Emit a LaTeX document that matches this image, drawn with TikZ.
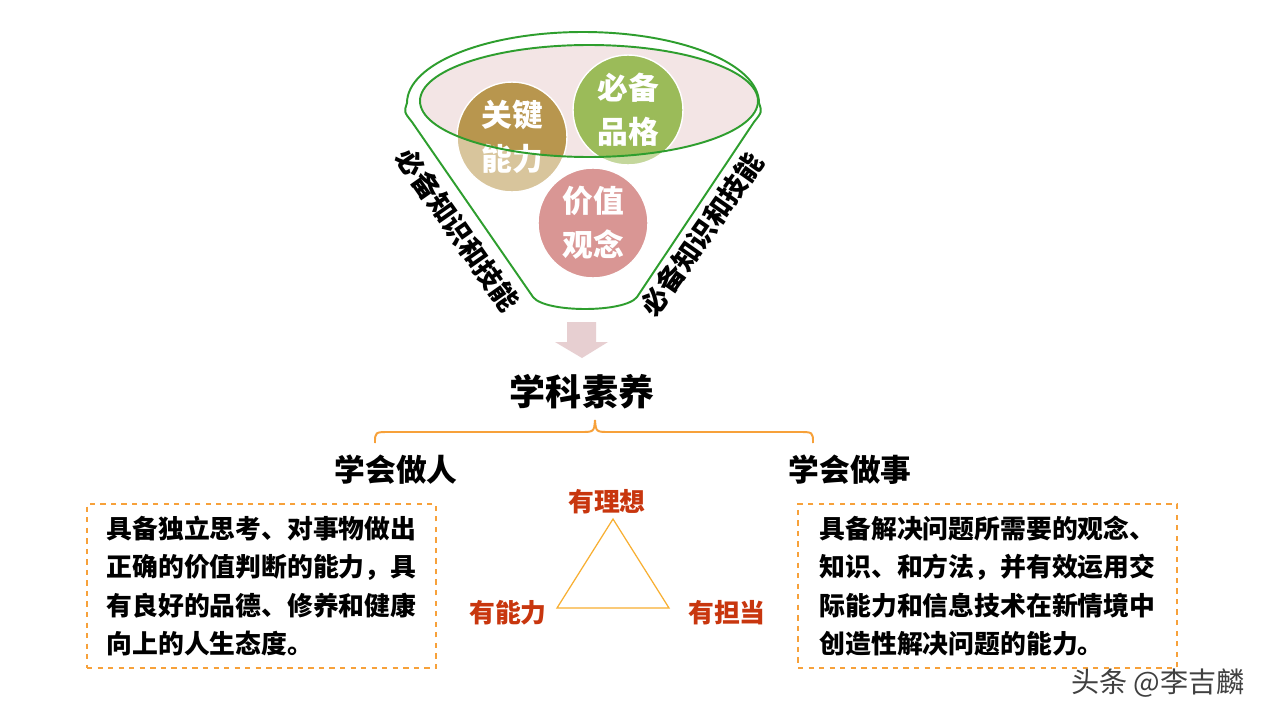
\documentclass[tikz,border=0pt]{standalone}
\usepackage{fontspec}
\setmainfont{Noto Sans CJK SC}
\usetikzlibrary{positioning,shapes.geometric}
\definecolor{lvse}{HTML}{2E9E2E}
\definecolor{fenhong}{HTML}{F3E5E5}
\definecolor{zongA}{HTML}{B8964E}
\definecolor{zongB}{HTML}{D8C59C}
\definecolor{lvA}{HTML}{9BBB59}
\definecolor{lvB}{HTML}{C4D79C}
\definecolor{hongA}{HTML}{D99694}
\definecolor{cheng}{HTML}{F7A13A}
\definecolor{hongzi}{HTML}{C8360E}
\definecolor{jiantou}{HTML}{E7CFD1}
\tikzset{
  quan/.style={circle,draw=white,line width=0.8pt,minimum size=2.2cm,inner sep=0pt,text=white,font=\fontsize{17.5}{25}\selectfont\bfseries,align=center},
  loudou/.style={draw=lvse,line width=1.1pt},
  cebian/.style={font=\fontsize{15.5}{18}\selectfont\bfseries,inner sep=0pt},
  kuang/.style={draw=cheng,dashed,line width=0.7pt,minimum width=6.98cm,minimum height=3.28cm,align=left,font=\fontsize{14.7}{21.8}\selectfont\bfseries},
  biaoti/.style={font=\fontsize{17.5}{20}\selectfont\bfseries},
  hongbiao/.style={text=hongzi,font=\fontsize{14.7}{17}\selectfont\bfseries},
  kuohao/.style={draw=cheng,line width=1.1pt},
  sanjiao/.style={draw=cheng!85!yellow,line width=0.7pt},
}

\begin{document}
\begin{tikzpicture}[x=0.02cm,y=-0.02cm]
\useasboundingbox[fill=white] (0,0) rectangle (1279,720);
% lou dou
\fill[fenhong] (589,101) ellipse[x radius=169,y radius=56];
\coordinate (cGJ) at (512,137);
\coordinate (cBP) at (628,110);
\coordinate (cJZ) at (593,223);
\fill[zongB] (cGJ) circle[radius=55];
\fill[lvB] (cBP) circle[radius=55];
\fill[hongA] (cJZ) circle[radius=55];
\begin{scope}
  \clip (589,101) ellipse[x radius=169,y radius=56];
  \fill[zongA] (cGJ) circle[radius=55];
  \fill[lvA] (cBP) circle[radius=55];
\end{scope}
\node[quan] (gj) at (cGJ) {关键\\能力};
\node[quan] (bp) at (cBP) {必备\\品格};
\node[quan] (jz) at (cJZ) {价值\\观念};
\draw[loudou] (589,101) ellipse[x radius=169,y radius=56];
\draw[loudou] (412,122) .. controls (404,112) .. (407,103)
  arc[start angle=180,end angle=360,x radius=176,y radius=71]
  .. controls (762,112) .. (754,122) -- (637,297)
  .. controls (625,313) and (545,313) .. (533,297) -- cycle;
\node[cebian,rotate=-55] (zuo) at (458,230) {必备知识和技能};
\node[cebian,rotate=55] (you) at (702,234) {必备知识和技能};
% jian tou
\fill[jiantou] (567,322) -- (596,322) -- (596,342) -- (608,342) -- (582,358)
  -- (555,342) -- (567,342) -- cycle;
\node[font=\fontsize{20.5}{24}\selectfont\bfseries] (xk) at (582,392) {学科素养};
\draw[kuohao] (375,443) .. controls (375,432) .. (390,432) -- (580,432)
  .. controls (594,432) .. (595,420) .. controls (596,432) .. (610,432)
  -- (798,432) .. controls (813,432) .. (813,443);
\node[biaoti] (zr) at (396,470) {学会做人};
\node[biaoti] (zs) at (850,470) {学会做事};
\node[kuang] (kz) at (261.5,586) {具备独立思考、对事物做出\\正确的价值判断的能力，具\\有良好的品德、修养和健康\\向上的人生态度。};
\node[kuang,minimum width=7.58cm] (ky) at (987.5,586) {具备解决问题所需要的观念、\\知识、和方法，并有效运用交\\际能力和信息技术在新情境中\\创造性解决问题的能力。};
% san jiao
\coordinate (sd) at (613,519);
\coordinate (sz) at (557,608);
\coordinate (sr) at (669,608);
\draw[sanjiao] (sd) -- (sr) -- (sz) -- cycle;
\node[hongbiao] (lx) at (607,502) {有理想};
\node[hongbiao] (nl) at (508,613) {有能力};
\node[hongbiao] (dd) at (727,613) {有担当};
\node[text=black!75,font=\fontsize{16}{18}\selectfont] (shuiyin) at (1158,683) {头条 @李吉麟};
\end{tikzpicture}
\end{document}
